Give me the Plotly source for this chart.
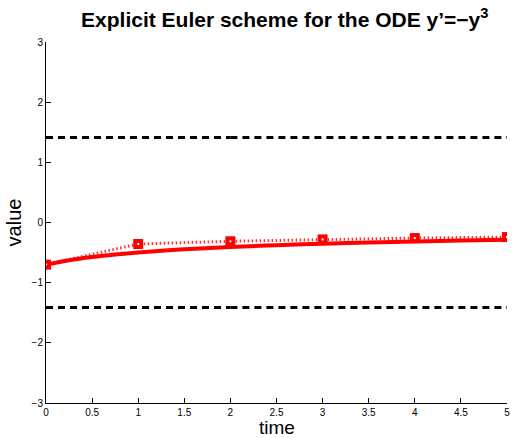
import plotly.graph_objects as go

# Exact solution
t_exact = [0, 0.25, 0.5, 0.75, 1, 1.5, 2, 2.5, 3, 3.5, 4, 4.5, 5]
y_exact = [-0.70, -0.627, -0.573, -0.531, -0.497, -0.445, -0.407, -0.377, -0.353, -0.333, -0.316, -0.301, -0.288]

# Explicit Euler iterates
t_euler = [0, 1, 2, 3, 4, 5]
y_euler = [-0.70, -0.357, -0.312, -0.281, -0.259, -0.242]

# Stability bounds
bound_t = [0, 2, None, 2, 5]
bound_up = [1.414, 1.414, None, 1.414, 1.414]
bound_lo = [-1.414, -1.414, None, -1.414, -1.414]

x_ticks = [0, 0.5, 1, 1.5, 2, 2.5, 3, 3.5, 4, 4.5, 5]
x_tick_text = ["0", "0.5", "1", "1.5", "2", "2.5", "3", "3.5", "4", "4.5", "5"]
y_ticks = [-3, -2, -1, 0, 1, 2, 3]
y_tick_text = ["\u22123", "\u22122", "\u22121", "0", "1", "2", "3"]

fig = go.Figure()
fig.add_trace(go.Scatter(x=bound_t, y=bound_up, mode="lines",
                         line=dict(color="black", width=3, dash="7px,5px"), showlegend=False))
fig.add_trace(go.Scatter(x=bound_t, y=bound_lo, mode="lines",
                         line=dict(color="black", width=3, dash="7px,5px"), showlegend=False))
fig.add_trace(go.Scatter(x=t_euler, y=y_euler, mode="lines",
                         line=dict(color="#ff3030", width=3, dash="1.5px,2.5px"), showlegend=False))
fig.add_trace(go.Scatter(x=t_exact, y=y_exact, mode="lines", line_shape="spline",
                         line=dict(color="red", width=4), showlegend=False))
fig.add_trace(go.Scatter(x=t_euler, y=y_euler, mode="markers",
                         marker=dict(symbol="square", size=10, color="red"), showlegend=False))
fig.add_trace(go.Scatter(x=t_euler, y=y_euler, mode="markers",
                         marker=dict(symbol="square", size=2, color="white"), showlegend=False))

fig.update_layout(
    width=513, height=438,
    margin=dict(l=46, r=3, t=42, b=35),
    paper_bgcolor="white", plot_bgcolor="white",
    font=dict(family="Liberation Sans, Arial, sans-serif", color="black"),
    title=dict(text="<b>Explicit Euler scheme for the ODE y\u2019=\u2212y<sup>3</sup></b>",
               x=0.555, xanchor="center", y=0.956, yanchor="middle",
               font=dict(size=21)),
    annotations=[dict(text="time", xref="paper", yref="paper", x=0.5, y=0,
                      xanchor="center", yanchor="top", yshift=-13, showarrow=False,
                      borderpad=0, font=dict(size=19))],
)
fig.update_xaxes(range=[0, 5], tickvals=x_ticks, ticktext=x_tick_text,
                 showgrid=False, zeroline=False, showline=True, linecolor="black", linewidth=1,
                 ticks="inside", ticklen=5, tickcolor="black", tickfont=dict(size=10),
                 ticklabeloverflow="allow")
fig.update_yaxes(range=[-3, 3], tickvals=y_ticks, ticktext=y_tick_text,
                 showgrid=False, zeroline=False, showline=True, linecolor="black", linewidth=1,
                 ticks="inside", ticklen=5, tickcolor="black", tickfont=dict(size=10),
                 title=dict(text="value", font=dict(size=20), standoff=4))

fig.write_html("out.html")
